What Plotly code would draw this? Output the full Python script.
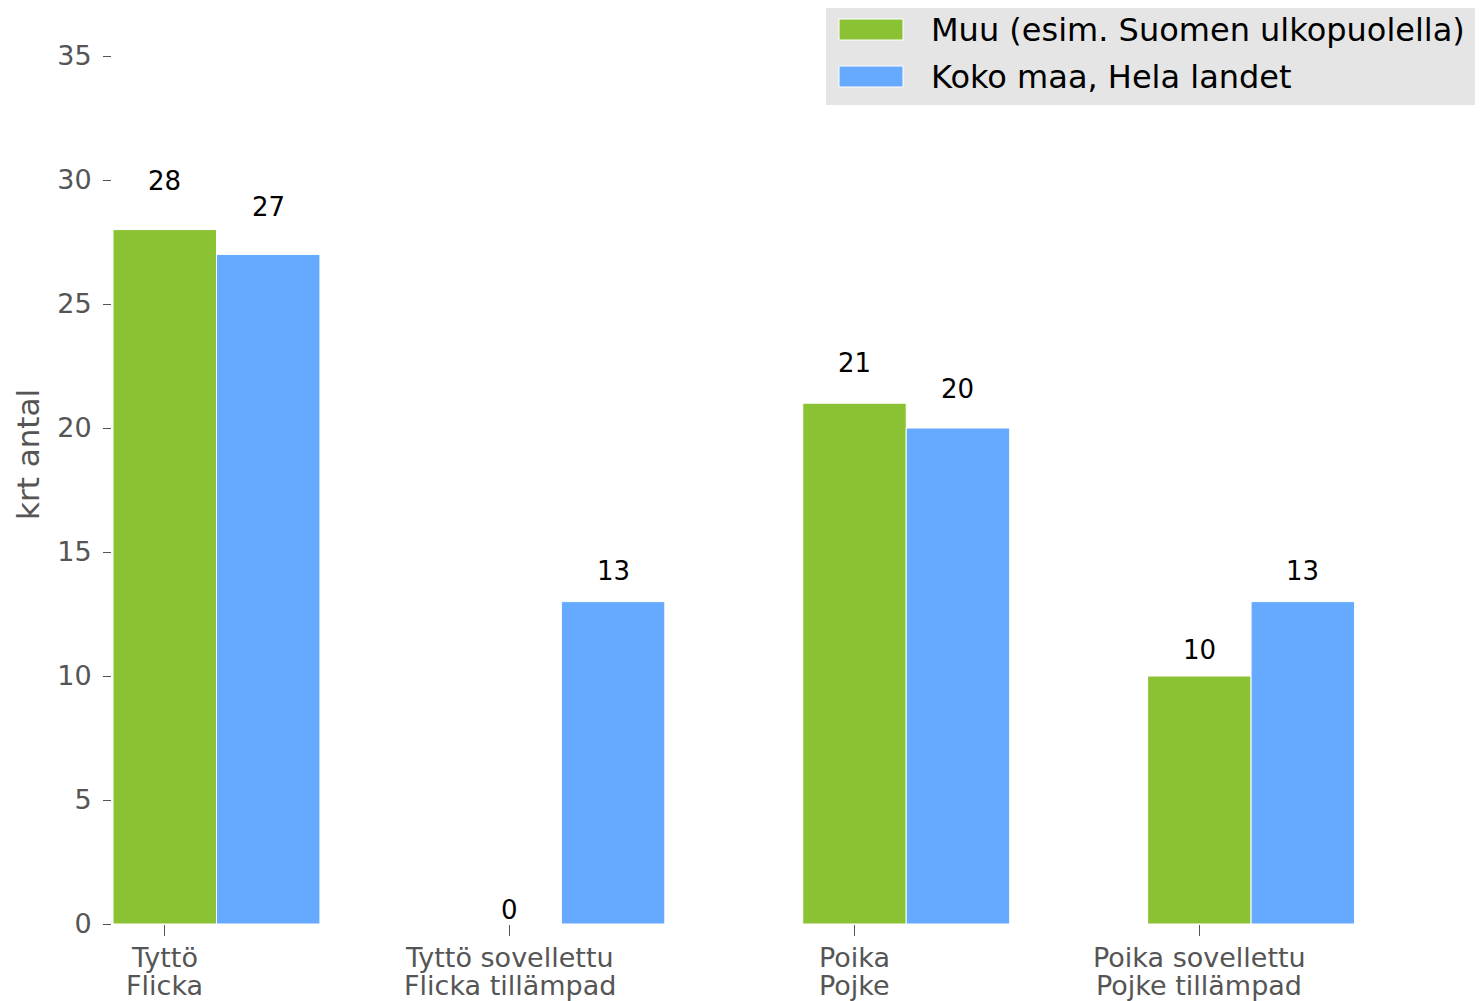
import plotly.graph_objects as go

categories = ["Tyttö", "Tyttö sovellettu", "Poika", "Poika sovellettu"]
categories_sv = ["Flicka", "Flicka tillämpad", "Pojke", "Pojke tillämpad"]
series_names = ["Muu (esim. Suomen ulkopuolella)", "Koko maa, Hela landet"]
muu_values = [28, 0, 21, 10]
koko_values = [27, 13, 20, 13]
y_ticks = [0, 5, 10, 15, 20, 25, 30, 35]

GREEN = "#8bc234"
BLUE = "#66aaff"
GREY = "#555555"
FONT = "DejaVu Sans"

# the page body has an 8px margin, so the figure is a bit smaller than the window
W, H = 1475, 993
ML, MR, MT, MB = 104, 125, 48, 77
plot_w = W - ML - MR
plot_h = H - MT - MB


def px(x, y):
    """page pixel -> paper coords"""
    return (x - 8 - ML) / plot_w, (H - MB - (y - 8)) / plot_h


fig = go.Figure()

idx = list(range(len(categories)))
for name, vals, color, off in [
    (series_names[0], muu_values, GREEN, -0.15),
    (series_names[1], koko_values, BLUE, 0.15),
]:
    fig.add_trace(
        go.Bar(
            x=idx,
            y=vals,
            name=name,
            width=0.3,
            offset=off,
            marker=dict(color=color, line=dict(color="white", width=1)),
            showlegend=False,
        )
    )
    # value labels above bars
    for i, v in zip(idx, vals):
        fig.add_annotation(
            x=i + off + 0.15,
            y=v * 1.05,
            text=str(v),
            showarrow=False,
            yanchor="middle",
            yshift=14,
            font=dict(family=FONT, size=26, color="black"),
        )

# category labels, two lines each (finnish / swedish)
for i, (fi, sv) in enumerate(zip(categories, categories_sv)):
    for txt, shift in [(fi, -33), (sv, -61)]:
        fig.add_annotation(
            x=i, xref="x", y=0, yref="paper", yshift=shift,
            text=txt, showarrow=False, yanchor="middle",
            font=dict(family=FONT, size=27, color=GREY),
        )

# y axis title (sits a little above the middle of the axis, as in the original)
tx, ty = px(28, 455)
fig.add_annotation(
    text="krt antal", xref="paper", yref="paper", x=tx, y=ty,
    textangle=-90, showarrow=False, xanchor="center", yanchor="middle",
    font=dict(family=FONT, size=31, color=GREY),
)

# legend box, matplotlib style
x0, y0 = px(826, 8)
x1, y1 = px(1475, 105)
fig.add_shape(type="rect", xref="paper", yref="paper", x0=x0, y0=y0, x1=x1, y1=y1,
              fillcolor="#e5e5e5", line=dict(width=0), layer="below")
for name, color, cy in [(series_names[0], GREEN, 30), (series_names[1], BLUE, 77)]:
    sx0, sy0 = px(839, cy - 11)
    sx1, sy1 = px(903, cy + 10)
    fig.add_shape(type="rect", xref="paper", yref="paper", x0=sx0, y0=sy0, x1=sx1, y1=sy1,
                  fillcolor=color, line=dict(color="white", width=1))
    lx, ly = px(929, cy)
    fig.add_annotation(text=name, xref="paper", yref="paper", x=lx, y=ly,
                       xanchor="left", yanchor="middle", showarrow=False,
                       font=dict(family=FONT, size=32, color="black"))

fig.update_layout(
    width=W,
    height=H,
    barmode="overlay",
    showlegend=False,
    font=dict(family=FONT, color=GREY),
    paper_bgcolor="white",
    plot_bgcolor="white",
    margin=dict(l=ML, r=MR, t=MT, b=MB, autoexpand=False),
)

fig.update_xaxes(
    tickvals=idx,
    range=[-0.153, 3.46],
    showticklabels=False,
    showgrid=False,
    showline=False,
    zeroline=False,
    ticks="outside",
    ticklen=11,
    tickcolor=GREY,
)
fig.update_yaxes(
    range=[0, 35],
    tickvals=y_ticks,
    showgrid=False,
    showline=False,
    zeroline=False,
    ticks="outside",
    ticklen=8,
    tickcolor=GREY,
    ticklabelstandoff=6,
    tickfont=dict(family=FONT, size=27, color=GREY),
)

fig.write_html("out.html")
